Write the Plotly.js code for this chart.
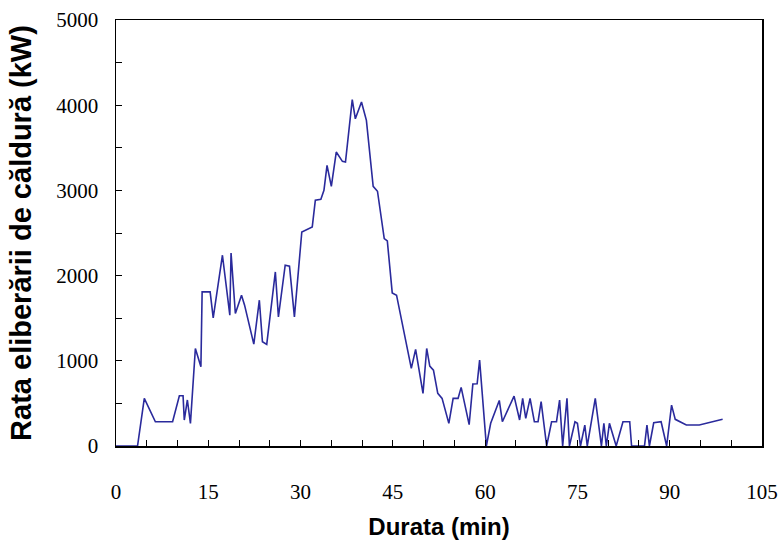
<!DOCTYPE html>
<html>
<head>
<meta charset="utf-8">
<script src="https://cdn.plot.ly/plotly-3.0.1.min.js"></script>
<style>html,body{margin:0;padding:0;background:#fff;}#chart{width:781px;height:545px;}</style>
</head>
<body>
<div id="chart"></div>
<script>
const durationMin = [0,3.5,4.6,6.4,9.2,10.3,10.9,11.1,11.6,12.1,12.9,13.8,14.0,15.3,15.8,17.3,18.5,18.7,19.4,20.4,20.9,22.4,23.3,23.8,24.5,25.9,26.4,27.5,28.2,29.0,30.2,31.9,32.4,33.3,33.8,34.3,35.0,35.8,36.8,37.3,38.4,38.9,39.9,40.7,41.8,42.5,43.6,44.1,44.9,45.6,48.0,48.7,49.9,50.5,51.0,51.6,52.3,53.0,54.1,54.8,55.6,56.1,57.4,58.0,58.7,59.1,60.2,60.9,62.3,62.8,64.7,65.6,66.1,66.6,67.3,68.0,68.6,69.1,70.0,70.8,71.6,72.1,72.6,73.3,73.7,74.6,75.0,75.5,76.2,76.6,77.9,78.9,79.3,79.7,80.2,81.3,82.4,83.5,83.8,85.9,86.3,86.7,87.4,88.6,89.5,90.3,90.9,92.7,94.8,98.6];
const heatReleaseKW = [0,0,559,285,285,590,590,305,540,266,1145,930,1809,1809,1504,2239,1536,2266,1555,1770,1653,1196,1711,1223,1192,2043,1516,2122,2110,1516,2512,2571,2884,2896,3001,3294,3048,3450,3341,3333,4065,3841,4037,3822,3048,2990,2435,2407,1797,1770,911,1134,618,1145,938,891,618,559,266,559,559,688,250,727,731,1008,0,266,535,285,586,305,559,324,559,285,285,520,0,285,285,539,0,559,0,285,266,0,246,0,559,0,266,0,266,0,285,285,0,0,246,0,273,285,0,480,313,246,246,313];
const xTickVals = [0,15,30,45,60,75,90,105];
const yTickVals = [0,1000,2000,3000,4000,5000];

const trace = {
  x: durationMin, y: heatReleaseKW, type: 'scatter', mode: 'lines',
  line: {color: '#2a2a9c', width: 1.6}, hoverinfo: 'x+y'
};
const tickFont = {family: '"Liberation Serif", "Times New Roman", serif', size: 21, color: '#000'};
const layout = {
  width: 781, height: 545,
  margin: {l: 116, r: 19, t: 20, b: 99},
  paper_bgcolor: '#fff', plot_bgcolor: '#fff',
  showlegend: false,
  xaxis: {
    range: [0, 105], tickvals: xTickVals, ticktext: xTickVals.map(String),
    ticks: 'inside', ticklen: 6, tickwidth: 1, tickcolor: '#000',
    minor: {dtick: 5, tick0: 0, ticks: 'inside', ticklen: 6, tickcolor: '#000'},
    showline: true, linecolor: '#000', linewidth: 1.5, mirror: true,
    showgrid: false, zeroline: false,
    tickfont: tickFont, ticklabelstandoff: 26,
    title: {text: 'Durata (min)', font: {family: '"Liberation Sans", Arial, sans-serif', size: 24, color: '#000', weight: 'bold'}, standoff: 15}
  },
  yaxis: {
    range: [0, 5000], tickvals: yTickVals, ticktext: yTickVals.map(String),
    ticks: 'inside', ticklen: 6, tickwidth: 1, tickcolor: '#000',
    minor: {dtick: 500, tick0: 0, ticks: 'inside', ticklen: 6, tickcolor: '#000'},
    showline: true, linecolor: '#000', linewidth: 1.5, mirror: true,
    showgrid: false, zeroline: false,
    tickfont: tickFont, ticklabelstandoff: 12,
    title: {text: 'Rata eliberării de căldură (kW)', font: {family: '"Liberation Sans", Arial, sans-serif', size: 29, color: '#000', weight: 'bold'}, standoff: 16}
  }
};
Plotly.newPlot('chart', [trace], layout, {displayModeBar: false, staticPlot: true});
</script>
</body>
</html>
